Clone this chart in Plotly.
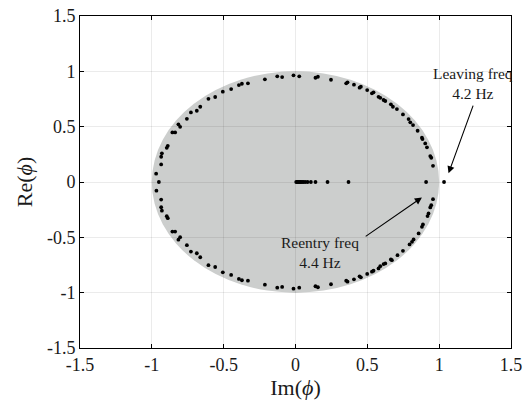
import plotly.graph_objects as go

# Eigenvalues phi: horizontal axis = Im(phi), vertical axis = Re(phi)
# Upper half of the unit-circle cloud
im_upper = [0.957, 0.945, 0.938, 0.915, 0.903, 0.884, 0.880, 0.850, 0.818, 0.799,
            0.787, 0.748, 0.706, 0.678, 0.664, 0.625, 0.613, 0.590, 0.578, 0.543,
            0.532, 0.499, 0.455, 0.446, 0.407, 0.362, 0.353, 0.247, 0.156, 0.139,
            0.026, -0.014, -0.093, -0.127, -0.213, -0.331, -0.373, -0.394, -0.448, -0.506,
            -0.559, -0.606, -0.663, -0.687, -0.728, -0.756, -0.803, -0.815, -0.838, -0.857,
            -0.889, -0.896, -0.930, -0.935, -0.935, -0.970]
re_upper = [0.146, 0.219, 0.234, 0.313, 0.349, 0.388, 0.400, 0.463, 0.514, 0.539,
            0.569, 0.611, 0.659, 0.680, 0.702, 0.732, 0.741, 0.761, 0.770, 0.810,
            0.801, 0.831, 0.861, 0.852, 0.879, 0.901, 0.892, 0.924, 0.951, 0.942,
            0.955, 0.964, 0.948, 0.955, 0.928, 0.892, 0.888, 0.876, 0.840, 0.816,
            0.768, 0.752, 0.680, 0.644, 0.629, 0.571, 0.499, 0.521, 0.448, 0.448,
            0.327, 0.309, 0.259, 0.228, 0.159, 0.075]

# Lower half of the unit-circle cloud
im_lower = [0.957, 0.945, 0.938, 0.926, 0.919, 0.887, 0.880, 0.857, 0.822, 0.811,
            0.794, 0.748, 0.710, 0.671, 0.664, 0.625, 0.613, 0.590, 0.578, 0.543,
            0.532, 0.499, 0.455, 0.446, 0.407, 0.362, 0.353, 0.247, 0.156, 0.139,
            0.026, -0.014, -0.093, -0.127, -0.213, -0.331, -0.373, -0.394, -0.448, -0.506,
            -0.559, -0.606, -0.663, -0.687, -0.728, -0.756, -0.803, -0.815, -0.838, -0.857,
            -0.889, -0.896, -0.930, -0.935, -0.935, -0.968]
re_lower = [-0.155, -0.209, -0.230, -0.284, -0.308, -0.383, -0.405, -0.465, -0.519, -0.541,
            -0.564, -0.622, -0.661, -0.706, -0.700, -0.736, -0.742, -0.761, -0.781, -0.802,
            -0.810, -0.831, -0.861, -0.852, -0.879, -0.901, -0.892, -0.924, -0.951, -0.942,
            -0.955, -0.964, -0.948, -0.955, -0.928, -0.892, -0.888, -0.876, -0.840, -0.816,
            -0.768, -0.752, -0.680, -0.644, -0.629, -0.571, -0.499, -0.521, -0.448, -0.448,
            -0.327, -0.309, -0.259, -0.228, -0.159, -0.078]

# Points lying on the real axis
im_axis = [-0.951, 0.005, 0.012, 0.020, 0.028, 0.036, 0.045, 0.055, 0.068, 0.084,
           0.107, 0.139, 0.223, 0.369, 0.909, 1.034]
re_axis = [0.0] * len(im_axis)

tick_vals = [-1.5, -1, -0.5, 0, 0.5, 1, 1.5]
tick_text = ["-1.5", "-1", "-0.5", "0", "0.5", "1", "1.5"]

SERIF = "Liberation Serif, Times New Roman, serif"
TXT = "#1a1a1a"

fig = go.Figure()

for xs, ys in [(im_upper, re_upper), (im_lower, re_lower), (im_axis, re_axis)]:
    fig.add_trace(go.Scatter(
        x=xs, y=ys, mode="markers",
        marker=dict(color="black", size=3.8, line=dict(width=0)),
        showlegend=False, hoverinfo="skip",
    ))

# Unit disk
fig.add_shape(type="circle", xref="x", yref="y", x0=-1, y0=-1, x1=1, y1=1,
              fillcolor="rgb(204,206,205)", line=dict(width=0), layer="below")

# Arrows
fig.add_annotation(x=1.065, y=0.078, ax=1.240, ay=0.704, axref="x", ayref="y",
                   xref="x", yref="y", text="", showarrow=True,
                   arrowhead=2, arrowsize=1.3, arrowwidth=1.1, arrowcolor="black",
                   standoff=0, startstandoff=0)
fig.add_annotation(x=0.880, y=-0.139, ax=0.478, ay=-0.501, axref="x", ayref="y",
                   xref="x", yref="y", text="", showarrow=True,
                   arrowhead=2, arrowsize=1.3, arrowwidth=1.1, arrowcolor="black",
                   standoff=0, startstandoff=0)

# Labels
label_font = dict(family=SERIF, size=15.5, color=TXT)
for txt, x, y in [("Leaving freq<br>4.2 Hz", 1.237, 0.886),
                  ("Reentry freq<br>4.4 Hz", 0.172, -0.641)]:
    fig.add_annotation(x=x, y=y, xref="x", yref="y", text=txt, showarrow=False,
                       font=label_font, align="center", borderpad=0)

axis_common = dict(
    range=[-1.5, 1.5], tickvals=tick_vals, ticktext=tick_text,
    showgrid=True, gridcolor="rgba(0,0,0,0.08)", gridwidth=1,
    zeroline=False, showline=True, linecolor="black", linewidth=1,
    mirror="allticks", ticks="inside", ticklen=4, tickcolor="black",
    tickfont=dict(family=SERIF, size=18, color=TXT), automargin=False,
)

fig.update_xaxes(**axis_common,
                 title=dict(text="Im(<i>ϕ</i>)", font=dict(family=SERIF, size=22, color=TXT),
                            standoff=4))
fig.update_yaxes(**axis_common,
                 title=dict(text="Re(<i>ϕ</i>)", font=dict(family=SERIF, size=22, color=TXT),
                            standoff=8))

fig.update_layout(
    width=527, height=400,
    margin=dict(l=80, r=16, t=16, b=52),
    paper_bgcolor="white", plot_bgcolor="white",
    showlegend=False,
)

fig.write_html("out.html")
